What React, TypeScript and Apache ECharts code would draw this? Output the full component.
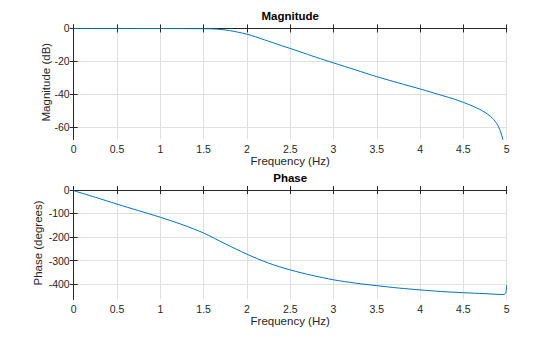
import React, { useEffect, useRef } from "react";
import * as echarts from "echarts";

const magFreq = [0, 1.0, 1.5, 1.6, 1.7, 1.8, 1.9, 2.0, 2.1, 2.2, 2.3, 2.4, 2.5, 2.6, 2.7, 2.8, 2.9, 3.0, 3.25, 3.5, 3.75, 4.0, 4.25, 4.4, 4.5, 4.6, 4.69, 4.75, 4.81, 4.85, 4.885, 4.91, 4.93, 4.955, 4.97];
const magDb = [0, -0.05, -0.15, -0.25, -0.6, -1.3, -2.3, -3.5, -5.1, -6.9, -8.7, -10.5, -12.2, -14.0, -15.8, -17.6, -19.3, -21.0, -25.2, -29.4, -33.2, -36.9, -40.8, -43.2, -45.1, -47.2, -49.4, -51.2, -53.5, -55.6, -58.0, -60.5, -63.0, -67.6, -72];

const phaseFreq = [0, 0.25, 0.5, 0.75, 1.0, 1.25, 1.5, 1.75, 2.0, 2.25, 2.5, 2.75, 3.0, 3.25, 3.5, 3.75, 4.0, 4.25, 4.5, 4.75, 4.9, 4.97, 4.99, 5.0];
const phaseDeg = [-3, -31, -60, -88, -116, -147, -183, -229, -273, -311, -340, -363, -382, -396, -407, -417, -425, -432, -437, -441, -444, -444.5, -436, -404];

const magTicks = [-60, -40, -20, 0];
const phaseTicks = [-400, -300, -200, -100, 0];

const FONT = "'Liberation Sans', Arial, Helvetica, sans-serif";
const AX = "#262626";
const GRID = "#dfdfdf";
const LINE = "#0072BD";

export default function App() {
  const ref = useRef<HTMLDivElement>(null);
  useEffect(() => {
    if (!ref.current) return;
    const chart = echarts.init(ref.current, undefined, { renderer: "svg" });
    const magData = magFreq.map((f, i) => [f, magDb[i]]);
    const phData = phaseFreq.map((f, i) => [f, phaseDeg[i]]);
    const grids = [
      { left: 73.7, right: 53.3, top: 25, height: 114.3 },
      { left: 73.7, right: 53.3, top: 186.7, height: 112.6 },
    ];
    const baseX = (gi: number, gap: number) => ({
      type: "value",
      gridIndex: gi,
      min: 0,
      max: 5,
      interval: 0.5,
      position: "bottom",
      name: "Frequency (Hz)",
      nameLocation: "middle",
      nameGap: gap,
      nameMoveOverlap: false,
      nameTextStyle: { color: AX, fontFamily: FONT, fontSize: 11.5 },
      axisLine: { show: true, lineStyle: { color: AX, width: 1 } },
      axisTick: { show: true, inside: true, length: 4, lineStyle: { color: AX } },
      axisLabel: { color: AX, fontFamily: FONT, fontSize: 10.5, margin: 4 },
      splitLine: { show: true, lineStyle: { color: GRID, width: 1 } },
    });
    const topX = (gi: number) => ({
      type: "value",
      gridIndex: gi,
      min: 0,
      max: 5,
      interval: 0.5,
      position: "top",
      axisLine: { show: true, lineStyle: { color: AX, width: 1 } },
      axisTick: { show: true, inside: true, length: 4, lineStyle: { color: AX } },
      axisLabel: { show: false },
      splitLine: { show: false },
    });
    const leftY = (gi: number, min: number, max: number, split: number, ticks: number[], name: string, gap: number) => ({
      type: "value",
      gridIndex: gi,
      min,
      max,
      splitNumber: split,
      position: "left",
      name,
      nameLocation: "middle",
      nameGap: gap,
      nameMoveOverlap: false,
      nameTextStyle: { color: AX, fontFamily: FONT, fontSize: 11.5 },
      axisLine: { show: true, lineStyle: { color: AX, width: 1 } },
      axisTick: { show: true, inside: true, length: 4, lineStyle: { color: AX }, customValues: ticks },
      axisLabel: { color: AX, fontFamily: FONT, fontSize: 10.5, margin: 4, customValues: ticks },
      splitLine: { show: true, lineStyle: { color: GRID, width: 1 } },
    });
    const rightY = (gi: number, min: number, max: number, split: number, ticks: number[]) => ({
      type: "value",
      gridIndex: gi,
      min,
      max,
      splitNumber: split,
      position: "right",
      axisLine: { show: true, lineStyle: { color: AX, width: 1 } },
      axisTick: { show: true, inside: true, length: 4, lineStyle: { color: AX }, customValues: ticks },
      axisLabel: { show: false },
      splitLine: { show: false },
    });
    chart.setOption({
      animation: false,
      backgroundColor: "#ffffff",
      grid: grids,
      xAxis: [baseX(0, 16), topX(0), baseX(1, 16), topX(1)],
      yAxis: [
        leftY(0, -67.6, 2.1, 4, magTicks, "Magnitude (dB)", 22),
        rightY(0, -67.6, 2.1, 4, magTicks),
        leftY(1, -465, 14, 5, phaseTicks, "Phase (degrees)", 30),
        rightY(1, -465, 14, 5, phaseTicks),
      ],
      graphic: [
        {
          type: "text",
          x: 290.2,
          y: 16,
          style: { text: "Magnitude", fill: "#000", font: `bold 11.5px ${FONT}`, textAlign: "center", textVerticalAlign: "middle" },
        },
        {
          type: "text",
          x: 290.2,
          y: 177.5,
          style: { text: "Phase", fill: "#000", font: `bold 11.5px ${FONT}`, textAlign: "center", textVerticalAlign: "middle" },
        },
      ],
      series: [
        {
          type: "line",
          xAxisIndex: 0,
          yAxisIndex: 0,
          data: magData,
          showSymbol: false,
          smooth: 0.3,
          clip: true,
          lineStyle: { color: LINE, width: 1 },
        },
        {
          type: "line",
          xAxisIndex: 2,
          yAxisIndex: 2,
          data: phData,
          showSymbol: false,
          smooth: 0.3,
          clip: true,
          lineStyle: { color: LINE, width: 1 },
        },
      ],
    });
    return () => chart.dispose();
  }, []);
  return <div ref={ref} style={{ position: "fixed", left: 0, top: 0, width: 560, height: 337, background: "#fff" }} />;
}
